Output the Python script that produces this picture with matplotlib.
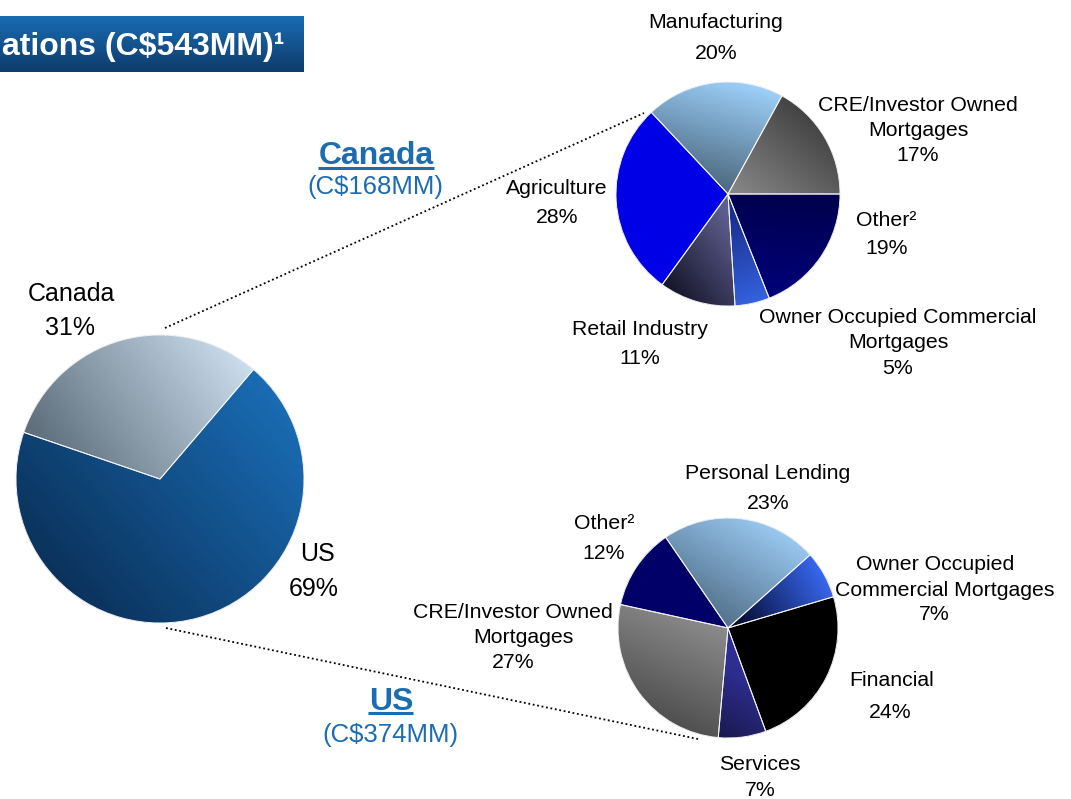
import numpy as np
import matplotlib
matplotlib.use("Agg")
import matplotlib.pyplot as plt
from matplotlib.colors import to_rgb

plt.rcParams['font.family'] = ['Liberation Sans', 'DejaVu Sans']

# ---------------- data ----------------
title_text = "ations (C$543MM)\u00b9"

main_labels = ["Canada", "US"]
main_values = [31, 69]

canada_heading = "Canada"
canada_total = "(C$168MM)"
canada_labels = ["CRE/Investor Owned\nMortgages", "Manufacturing", "Agriculture",
                 "Retail Industry", "Owner Occupied Commercial\nMortgages", "Other\u00b2"]
canada_values = [17, 20, 28, 11, 5, 19]

us_heading = "US"
us_total = "(C$374MM)"
us_labels = ["Owner Occupied\nCommercial Mortgages", "Personal Lending", "Other\u00b2",
             "CRE/Investor Owned\nMortgages", "Services", "Financial"]
us_values = [7, 23, 12, 27, 7, 24]

# ---------------- layout / style ----------------
W, H = 1071, 799
fig = plt.figure(figsize=(W / 100, H / 100), dpi=100)
ax = fig.add_axes([0, 0, 1, 1])
ax.set_axis_off()

BLUE_TXT = "#1c6cb2"


def grad_fill(wedge, p0, c0, p1, c1, center, r):
    x0, x1 = center[0] - r - 2, center[0] + r + 2
    y0, y1 = center[1] - r - 2, center[1] + r + 2
    n = 300
    X, Y = np.meshgrid(np.linspace(x0, x1, n), np.linspace(y0, y1, n))
    d = np.array(p1, float) - np.array(p0, float)
    t = ((X - p0[0]) * d[0] + (Y - p0[1]) * d[1]) / (d @ d)
    t = np.clip(t, 0, 1)[..., None]
    img = (1 - t) * np.array(to_rgb(c0)) + t * np.array(to_rgb(c1))
    im = ax.imshow(img, extent=(x0, x1, y1, y0), origin="upper",
                   interpolation="bilinear", zorder=2)
    im.set_clip_path(wedge)


def draw_pie(values, center, r, start, grads):
    wedges, _ = ax.pie(values, center=center, radius=r, startangle=-start,
                       counterclock=False,
                       colors=[g[1] for g in grads],
                       wedgeprops=dict(linewidth=0, zorder=1))
    for w, g in zip(wedges, grads):
        grad_fill(w, g[0], g[1], g[2], g[3], center, r)
    ax.pie(values, center=center, radius=r, startangle=-start, counterclock=False,
           colors=["none"] * len(values),
           wedgeprops=dict(edgecolor="#f4f4f4", linewidth=0.7, zorder=3))


# main pie
main_c, main_r = (160, 479), 144
draw_pie(main_values, main_c, main_r, 49.5, [
    ((60, 470), "#5f6f7c", (240, 345), "#cde0f0"),
    ((60, 600), "#0a3058", (290, 400), "#1a6db6"),
])

# Canada pie
can_c, can_r = (728, 194), 112
draw_pie(canada_values, can_c, can_r, 0, [
    ((735, 190), "#858585", (805, 105), "#404040"),
    ((728, 194), "#4a667c", (760, 88), "#9ccff9"),
    ((700, 194), "#0000e6", (701, 194), "#0000e6"),
    ((665, 285), "#15152a", (738, 230), "#5e5e8e"),
    ((735, 215), "#1a2f90", (768, 300), "#3563e0"),
    ((780, 200), "#000050", (770, 300), "#00007c"),
])

# US pie
us_c, us_r = (728, 628), 110
draw_pie(us_values, us_c, us_r, 16.5, [
    ((740, 630), "#050a30", (830, 575), "#3a6cf8"),
    ((728, 628), "#52708a", (790, 525), "#a0d0fa"),
    ((680, 560), "#000068", (681, 560), "#000068"),
    ((650, 725), "#4a4a4a", (700, 615), "#8c8c8c"),
    ((718, 735), "#1a1a50", (752, 680), "#2e2e92"),
    ((780, 650), "#000000", (781, 650), "#000000"),
])

# dotted connectors
ax.plot([165, 644], [328, 113], color="black", lw=1.3, ls=(0, (1, 1.5)), zorder=4)
ax.plot([166, 698], [628, 739], color="black", lw=1.3, ls=(0, (1, 1.5)), zorder=4)

# title box with gradient
tb = np.linspace(0, 1, 100)[:, None, None]
timg = (1 - tb) * np.array(to_rgb("#1a6cb4")) + tb * np.array(to_rgb("#0e3b6a"))
timg = np.repeat(timg, 2, axis=1)
ax.imshow(timg, extent=(0, 304, 72, 16), origin="upper", interpolation="bilinear",
          aspect="auto", zorder=2)
ax.text(284, 55, title_text, color="white", fontsize=23, fontweight="bold",
        ha="right", va="baseline", zorder=5)


def put_lines(lines, xs, ys, size, color="black", weight="normal"):
    pxem = size * 100 / 72
    for s, x, y in zip(lines, xs, ys):
        ax.text(x, y + 0.36 * pxem, s, fontsize=size, color=color, fontweight=weight,
                ha="center", va="baseline", zorder=5)


def label(name, value, xs, ys, size=15.3):
    lines = name.split("\n") + [f"{value}%"]
    put_lines(lines, xs, ys, size)


# main pie labels
label(main_labels[0], main_values[0], [71, 70], [292, 326], 18)
label(main_labels[1], main_values[1], [318, 314], [552, 587], 18)

# Canada pie labels
label(canada_labels[0], canada_values[0], [918, 918, 918], [103, 128, 153])
label(canada_labels[1], canada_values[1], [716, 716], [20, 51])
label(canada_labels[2], canada_values[2], [557, 557], [186, 215])
label(canada_labels[3], canada_values[3], [640, 640], [327, 356])
label(canada_labels[4], canada_values[4], [898, 898, 898], [315, 340, 366])
label(canada_labels[5], canada_values[5], [886, 887], [218, 246])

# US pie labels
label(us_labels[0], us_values[0], [935, 945, 934], [562, 588, 612])
label(us_labels[1], us_values[1], [768, 768], [471, 501])
label(us_labels[2], us_values[2], [604, 604], [521, 551])
label(us_labels[3], us_values[3], [513, 523, 513], [610, 635, 660])
label(us_labels[4], us_values[4], [760, 760], [762, 788])
label(us_labels[5], us_values[5], [892, 890], [678, 710])

# headings
put_lines([canada_heading], [376], [152], 23, BLUE_TXT, "bold")
ax.plot([318, 434], [168, 168], color=BLUE_TXT, lw=2.2, solid_capstyle="butt", zorder=5)
put_lines([canada_total], [375], [185], 18.5, BLUE_TXT)

put_lines([us_heading], [391], [698], 23, BLUE_TXT, "bold")
ax.plot([368, 413], [713, 713], color=BLUE_TXT, lw=2.2, solid_capstyle="butt", zorder=5)
put_lines([us_total], [390], [733], 18.5, BLUE_TXT)

ax.set_xlim(0, W)
ax.set_ylim(H, 0)
ax.set_aspect("auto")
fig.savefig("out.png", dpi=100)
